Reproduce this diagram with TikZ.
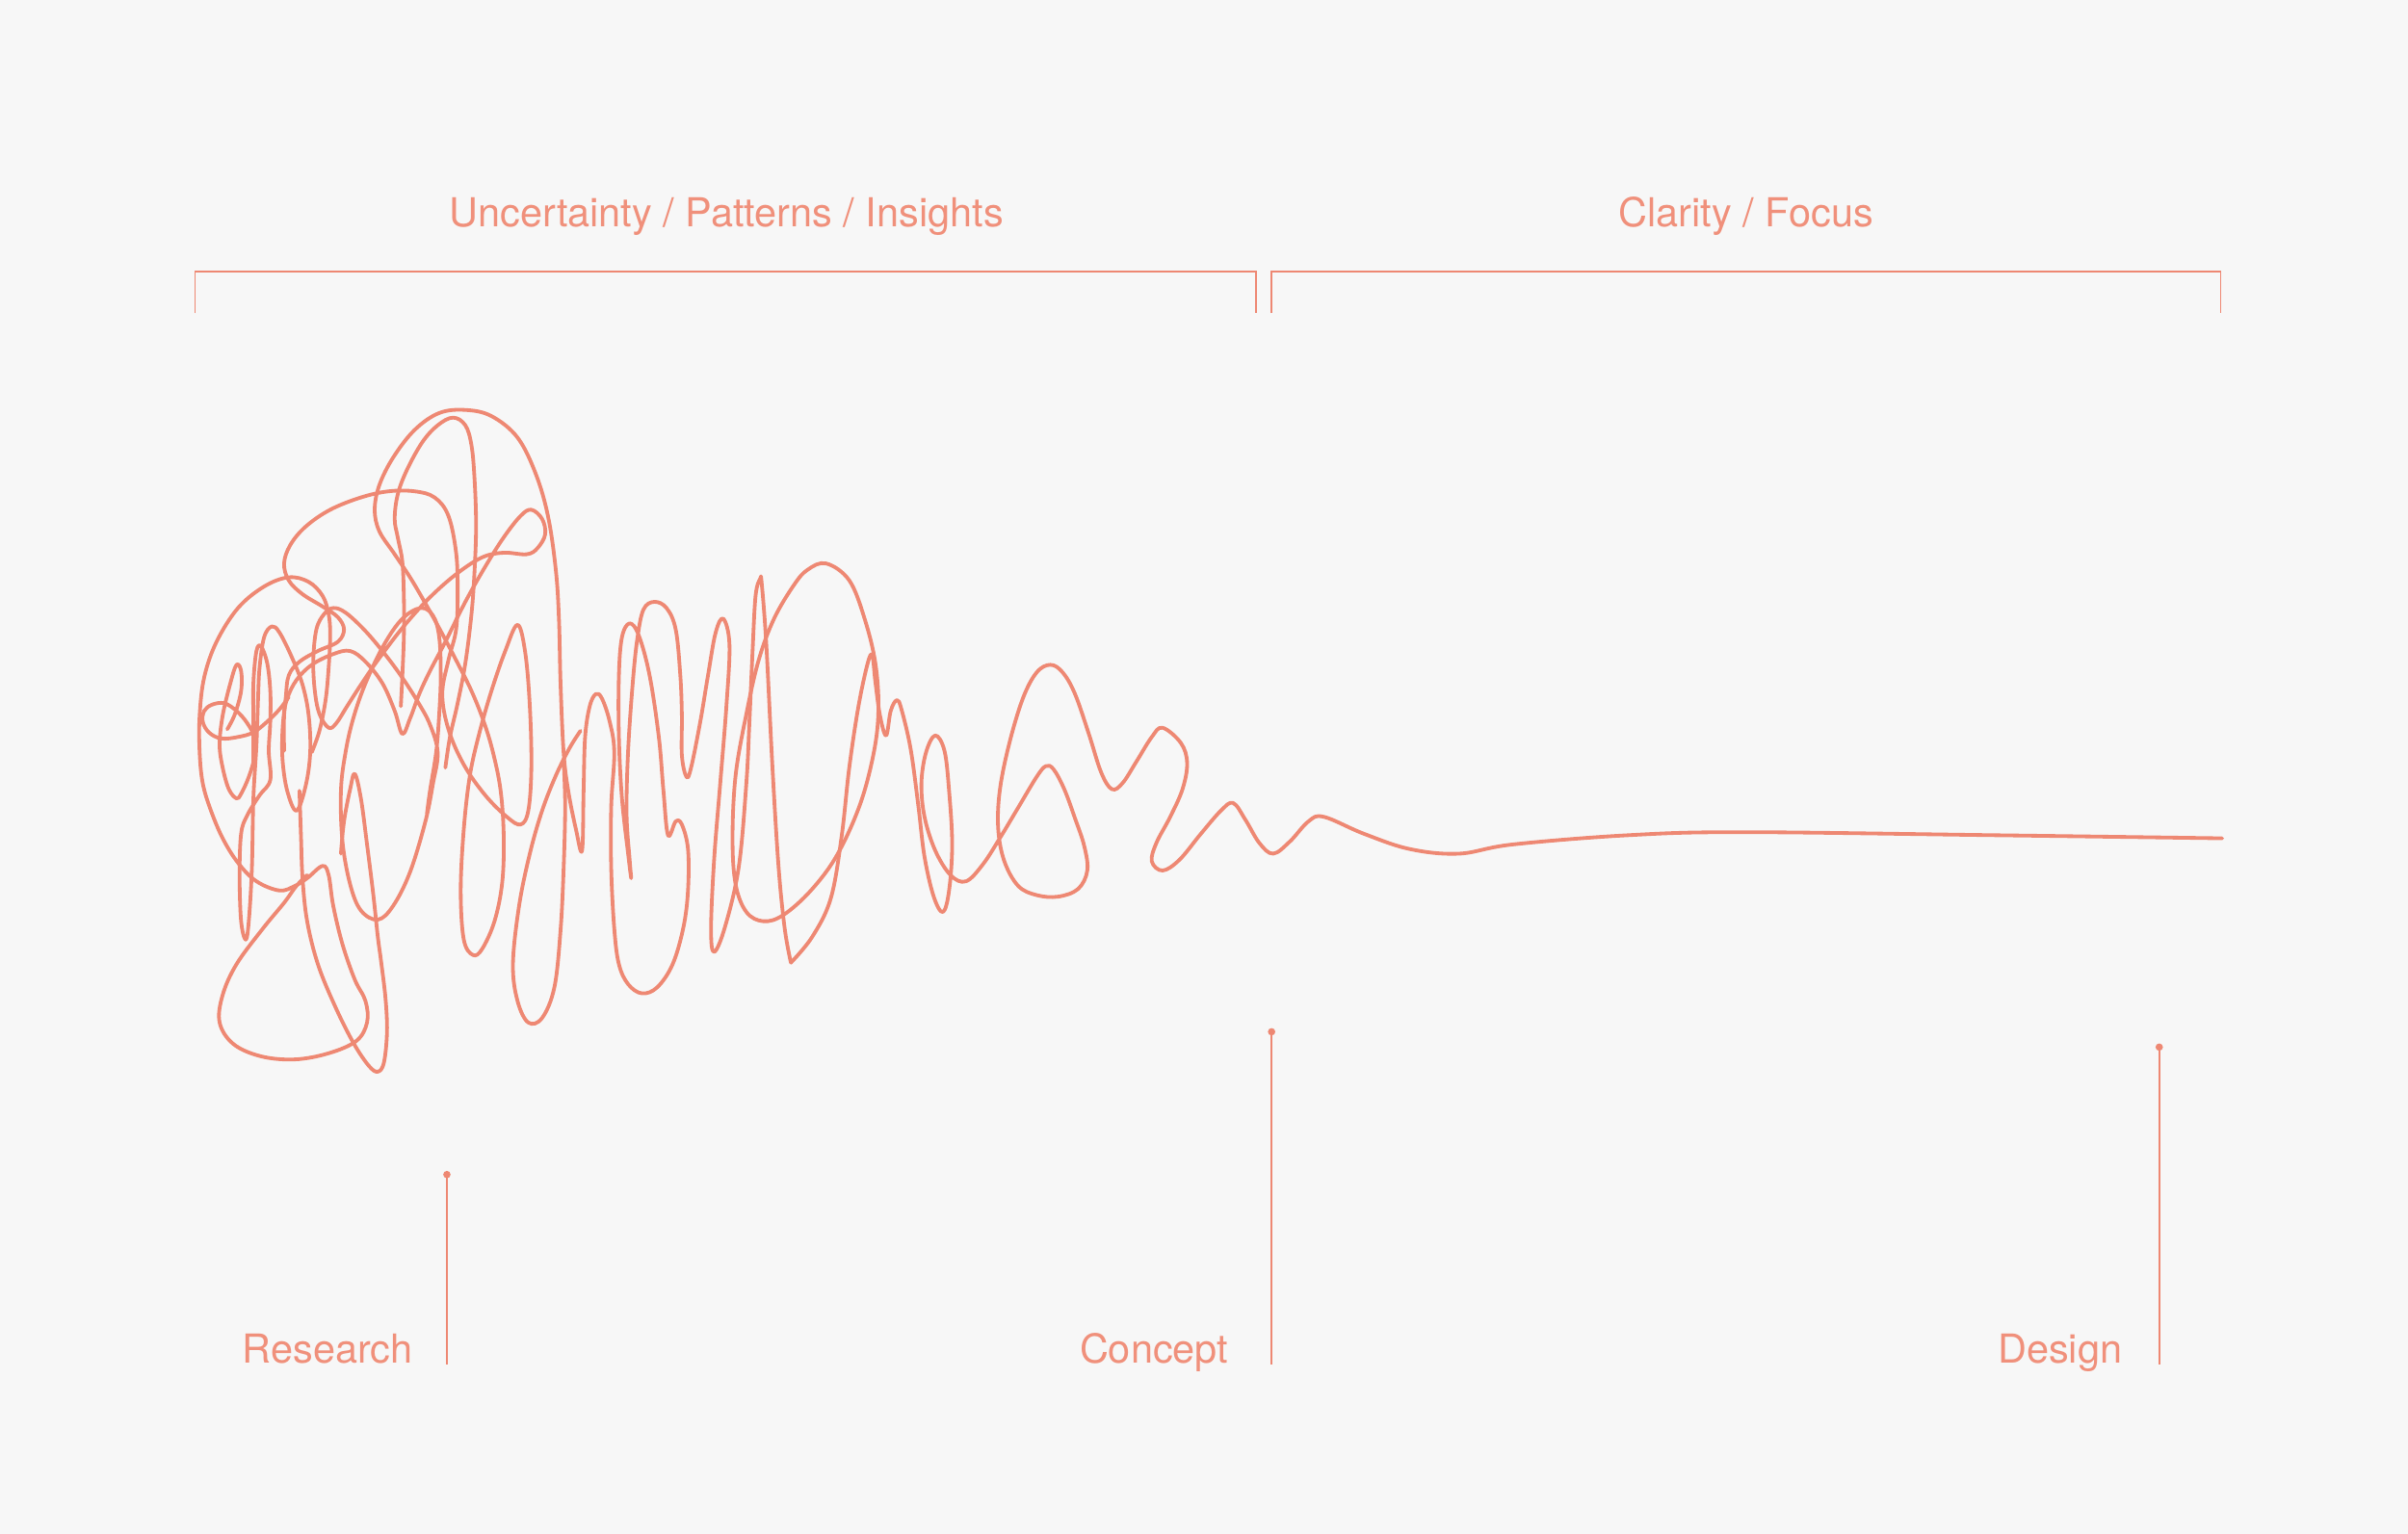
\documentclass[tikz,border=0pt]{standalone}
\usepackage{fontspec}
\setmainfont{TeX Gyre Heros}
\definecolor{bg}{HTML}{F7F7F7}
\definecolor{sal}{HTML}{EE8873}
\definecolor{saltxt}{HTML}{F0907B}
\begin{document}
\begin{tikzpicture}[x=1pt,y=-1pt,
  sq/.style={draw=sal,line width=2.4pt,line cap=round,line join=round},
  rule/.style={draw=sal,line width=1.1pt},
  lbl/.style={text=saltxt,font=\fontsize{26}{30}\selectfont,inner sep=0pt}]
\fill[bg] (0,0) rectangle (1568,999);
\useasboundingbox (0,0) rectangle (1568,999);
% titles
\node[lbl,anchor=base] (t1) at (473,148) {Uncertainty / Patterns / Insights};
\node[lbl,anchor=base] (t2) at (1137,148) {Clarity / Focus};
% brackets
\coordinate (b1a) at (127,204); \coordinate (b1b) at (127,177);
\coordinate (b1c) at (818,177); \coordinate (b1d) at (818,204);
\coordinate (b2a) at (828,204); \coordinate (b2b) at (828,177);
\coordinate (b2c) at (1446,177); \coordinate (b2d) at (1446,204);
\draw[rule] (b1a) -- (b1b) -- (b1c) -- (b1d);
\draw[rule] (b2a) -- (b2b) -- (b2c) -- (b2d);
% labels and markers
\node[lbl,anchor=base east] (lr) at (269,887.5) {Research};
\node[lbl,anchor=base east] (lc) at (800,887.5) {Concept};
\node[lbl,anchor=base east] (ld) at (1382,887.5) {Design};
\coordinate (rtop) at (291,765); \coordinate (rbot) at (291,889);
\coordinate (ctop) at (828,672); \coordinate (cbot) at (828,889);
\coordinate (dtop) at (1406,682); \coordinate (dbot) at (1406,889);
\draw[rule] (rtop) -- (rbot);
\draw[rule] (ctop) -- (cbot);
\draw[rule] (dtop) -- (dbot);
\fill[sal] (rtop) circle (2.4);
\fill[sal] (ctop) circle (2.4);
\fill[sal] (dtop) circle (2.4);
% squiggle
\draw[sq] plot[smooth,tension=0.6] coordinates {(1447,546) (1300,544) (1135,542) (1060,544) (985,550) (950,556) (918,553) (888,543) (862,532) (852,535) (840,548) (829,556) (820,549) (811,534) (803,523) (795,528) (782,543) (768,560) (757,567) (750,561) (753,549) (762,532) (770,514) (773,497) (769,484) (757,474) (750,480) (740,496) (731,510) (724,514) (717,503) (709,478) (700,452) (692,438) (684,433) (675,438) (666,455) (657,485) (651,515) (650,540) (654,561) (663,577) (675,583) (689,584) (702,579) (708,567) (706,551) (700,533) (693,514) (686,501) (681,499) (675,506) (663,526) (651,546) (640,563) (629,574) (619,570) (609,554) (602,532) (600,510) (603,490) (609,479) (615,489) (618,515) (620,550) (618,580) (614,594) (608,584) (602,558) (598,525) (593,488) (587,462) (584,456) (580,463) (577,479) (573,466) (570,444) (568,427) (565,432) (559,460) (553,500) (548,545) (541,585) (529,610) (515,627)};
\draw[sq] plot[smooth,tension=0.6] coordinates {(515,627) (511,605) (507,565) (503,500) (499,420) (496,380) (495,377) (492,388) (490,425) (488,470) (486,510) (481,565) (472,604) (465,620) (463,605) (465,560) (469,510) (473,460) (475,420) (471,403) (466,412) (461,440) (456,470) (450,500) (447,506) (444,492) (444,466) (443,440) (440,410) (434,396) (426,392) (419,397) (415,416) (412,445) (409,489) (408,530) (410,560) (411,572) (409,556) (405,520) (403,480) (403,440) (405,415) (410,406) (416,414) (423,440) (429,480) (432,515) (435,544) (440,535) (444,537) (448,553) (448,580) (445,604) (438,628) (428,643) (418,647) (409,641) (403,628) (400,605) (398,566) (398,525) (400,490) (397,470) (392,455) (388,452) (384,460) (381,480) (380,515) (379,554) (375,540) (370,515) (367,490) (365,445) (364,404) (362,372) (357,337) (349,309) (337,285) (320,271) (303,267) (286,269) (270,280) (256,298) (247,316) (244,332) (247,346) (257,361) (267,376) (277,393) (287,411) (297,430) (307,450) (315,470) (321,490) (326,515) (328,545) (327,575) (322,600) (314,618) (308,622) (302,612) (300,580) (302,540) (306,505) (312,478) (320,450) (329,424) (337,407) (342,425) (345,460) (346,500) (344,528) (339,537) (330,532) (316,518) (302,498) (292,475) (288,452) (292,430) (297,410) (298,385) (297,360) (292,336) (283,324) (270,320) (253,320) (235,324) (215,332) (199,343) (189,355) (185,367) (188,378) (197,387) (210,395) (220,402) (224,410) (220,418) (207,424) (195,431) (188,440) (186,455) (184,475) (184,495) (187,515) (193,528) (199,512) (202,490) (201,466) (197,446) (190,428) (182,412) (177,408) (172,415) (169,435) (168,456) (167,485) (165,520) (164,566) (162,600) (160,612) (157,600) (156,570) (157,543) (161,531) (169,518) (176,508) (175,489) (176,470) (176,450) (174,432) (170,421) (167,424) (165,445) (165,470) (165,500)};
\draw[sq] plot[smooth,tension=0.6] coordinates {(378,476) (371,487) (362,505) (353,528) (345,556) (338,590) (334,628) (337,652) (344,666) (353,663) (361,643) (365,606) (367,566) (368,525) (367,495)};
\draw[sq] plot[smooth cycle,tension=0.6] coordinates {(538,367) (553,378) (563,403) (570,432) (572,462) (569,490) (560,524) (545,557) (528,580) (510,596) (497,600) (486,594) (479,576) (477,546) (479,505) (486,465) (494,430) (504,403) (517,381) (526,371)};
\draw[sq] plot[smooth,tension=0.6] coordinates {(261,460) (262,440) (263,414) (263,390) (262,366) (259,350) (257,338) (259,322) (265,306) (275,288) (285,277) (295,272) (303,277) (307,290) (309,312) (310,342) (309,372) (307,400) (303,432) (298,458) (293,480) (290,500)};
\draw[sq] plot[smooth,tension=0.6] coordinates {(185,489) (185,466) (187,455) (193,443) (203,433) (217,426) (228,424) (238,431) (249,445) (257,463) (262,478) (267,468) (273,452) (280,437) (290,418) (303,392) (316,369) (328,350) (339,336) (346,332) (353,338) (355,348) (350,357) (343,361) (328,360) (314,363) (297,374) (279,390) (262,409) (246,430) (235,446) (226,460) (219,471) (214,474) (208,465) (205,450) (204,430) (206,410) (211,400) (217,396) (225,399) (237,410) (249,424) (261,440) (272,457) (280,472) (285,490) (282,510) (277,535) (267,568) (256,590) (246,599) (235,593) (228,576) (223,548) (222,515) (225,490) (230,468) (238,445) (250,420) (262,403) (274,396) (282,401) (286,415) (287,440) (286,465) (284,490) (280,515) (278,530)};
\draw[sq] plot[smooth,tension=0.6] coordinates {(203,490) (208,476) (212,456) (214,435) (215,414) (214,400) (210,388) (201,379) (188,376) (172,382) (155,396) (141,418) (133,441) (130,466) (130,490) (132,510) (137,527) (145,546) (155,562) (167,574) (182,580) (192,577) (200,572) (210,564) (214,570) (217,590) (223,615) (231,638) (238,652) (239,666) (232,678) (214,686) (192,690) (170,688) (152,680) (143,666) (145,648) (154,628) (171,605) (185,588) (193,577) (200,570)};
\draw[sq] plot[smooth,tension=0.6] coordinates {(222,556) (224,535) (228,514) (231,504) (235,520) (239,550) (243,582) (246,610) (248,625) (251,650) (252,672) (250,692) (246,698) (240,694) (230,679) (218,655) (207,628) (200,600) (197,572) (196,545) (195,515)};
\draw[sq] plot[smooth,tension=0.6] coordinates {(188,454) (182,462) (174,470) (165,477) (155,480) (144,481) (136,477) (132,470) (133,463) (138,459) (146,458) (154,463) (161,471) (166,481) (166,492) (162,506) (157,517) (154,520) (149,514) (145,500) (143,485) (145,466) (150,445) (154,433) (157,437) (157,450) (153,465) (148,475)};
\end{tikzpicture}
\end{document}
